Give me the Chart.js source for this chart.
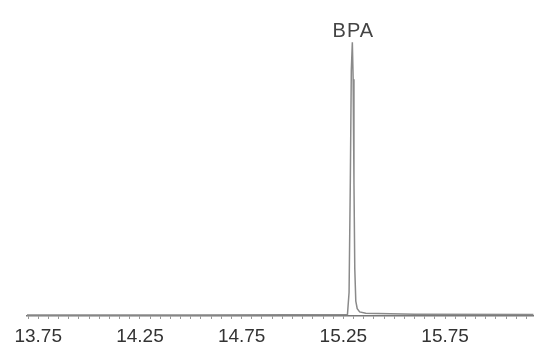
<!DOCTYPE html>
<html>
<head>
<meta charset="utf-8">
<script src="https://cdn.jsdelivr.net/npm/chart.js@4"></script>
<style>
  html, body { margin: 0; padding: 0; background: #fff; }
  #wrap { width: 535px; height: 345px; }
</style>
</head>
<body>
<div id="wrap"><canvas id="chrom"></canvas></div>
<script>
// retention time (min) and detector response
const times = [13.695, 14.5, 15.0, 15.27, 15.278, 15.284, 15.289, 15.294, 15.298, 15.302, 15.306, 15.311, 15.318, 15.33, 15.36, 15.6, 16.185];
const response = [0.3, 0.3, 0.4, 0.5, 8, 45, 83, 92.5, 80, 45, 16, 5, 2.5, 1.4, 0.9, 0.6, 0.5];
const tickLabels = ["13.75", "14.25", "14.75", "15.25", "15.75"];
const peakName = "BPA";
const peakTime = 15.294;

const majorTicks = tickLabels.map(parseFloat);
const minorTicks = [];
for (let i = 0; i < 50; i++) minorTicks.push(13.70 + i * 0.05);

const peakLabel = {
  id: "peakLabel",
  afterDatasetsDraw(chart) {
    const { ctx, scales } = chart;
    const x = scales.x.getPixelForValue(peakTime);
    ctx.save();
    ctx.font = "20px 'Liberation Sans', Arial, sans-serif";
    ctx.letterSpacing = "1px";
    ctx.fillStyle = "#444";
    ctx.textAlign = "center";
    ctx.textBaseline = "middle";
    ctx.fillText(peakName, x + 1, 31);
    ctx.restore();
  }
};

new Chart(document.getElementById("chrom"), {
  type: "line",
  data: {
    datasets: [{
      data: times.map((t, i) => ({ x: t, y: response[i] })),
      borderColor: "#8a8a8a",
      borderWidth: 1.5,
      pointRadius: 0,
      tension: 0
    }]
  },
  options: {
    responsive: true,
    maintainAspectRatio: false,
    animation: false,
    layout: { padding: { left: 27, right: 0, top: 20, bottom: -10 } },
    plugins: { legend: { display: false }, tooltip: { enabled: false } },
    scales: {
      x: {
        type: "linear",
        min: 13.695,
        max: 16.185,
        afterBuildTicks(scale) {
          scale.ticks = minorTicks.map(v => ({ value: v }));
        },
        ticks: {
          autoSkip: false,
          maxRotation: 0,
          padding: 8.5,
          color: "#333",
          font: { family: "'Liberation Sans', Arial, sans-serif", size: 19, lineHeight: 1 },
          callback(v) {
            const i = majorTicks.findIndex(m => Math.abs(m - v) < 1e-6);
            return i >= 0 ? tickLabels[i] : "";
          }
        },
        grid: { drawOnChartArea: false, tickLength: 3, color: "#999" },
        border: { color: "#777", width: 1.5 }
      },
      y: {
        display: false,
        min: 0,
        max: 100
      }
    }
  },
  plugins: [peakLabel]
});
</script>
</body>
</html>
